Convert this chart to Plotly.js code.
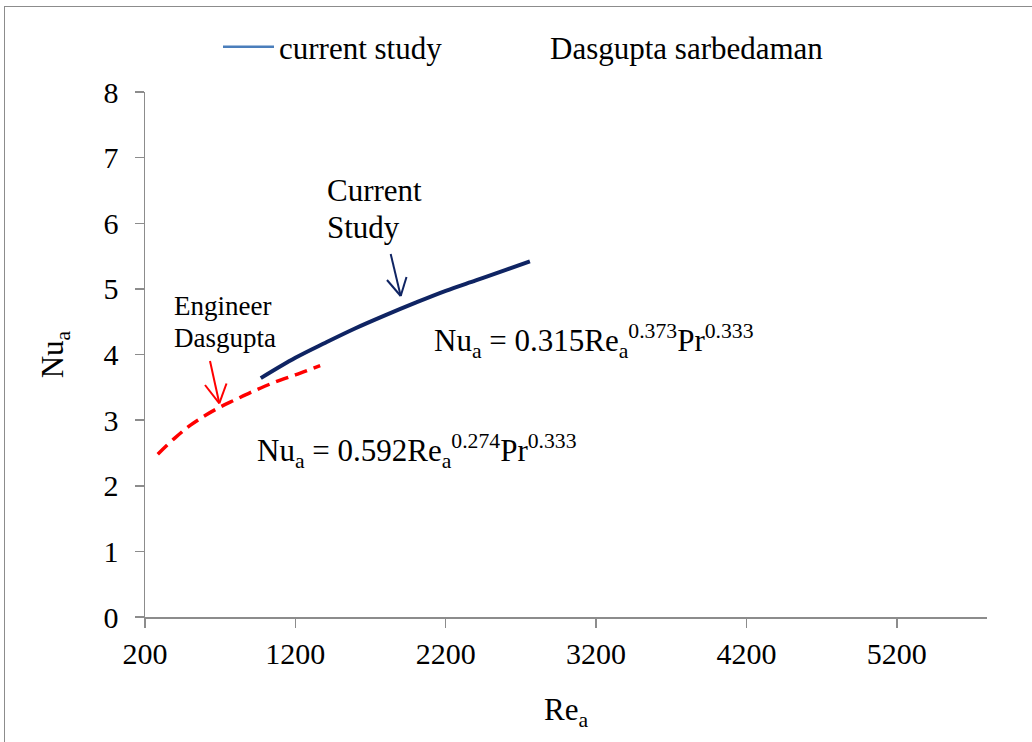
<!DOCTYPE html>
<html>
<head>
<meta charset="utf-8">
<script src="https://cdn.plot.ly/plotly-3.0.1.min.js"></script>
<style>
  html, body { margin: 0; padding: 0; background: #ffffff; }
  #wrap { position: relative; width: 1032px; height: 742px; overflow: hidden; }
  #chart { width: 1032px; height: 742px; }
  #frame { position: absolute; left: 4px; top: 6px; width: 1100px; height: 800px;
           border-left: 1.5px solid #8c8c8c; border-top: 1.5px solid #8c8c8c; pointer-events: none; }
</style>
</head>
<body>
<div id="wrap">
  <div id="chart"></div>
  <div id="frame"></div>
</div>
<script>
// ---- data ----
const currentRe = [970, 1200, 1400, 1600, 1800, 2000, 2200, 2400, 2600, 2760];
const currentNu = [3.64, 3.95, 4.18, 4.40, 4.60, 4.79, 4.97, 5.13, 5.29, 5.42];

const dasguptaRe = [285, 400, 500, 600, 700, 800, 900, 1000, 1100, 1200, 1365];
const dasguptaNu = [2.48, 2.73, 2.92, 3.07, 3.20, 3.31, 3.42, 3.52, 3.61, 3.69, 3.83];

const xTickVals = [200, 1200, 2200, 3200, 4200, 5200];
const yTickVals = [0, 1, 2, 3, 4, 5, 6, 7, 8];

const legendNames = ['current study', 'Dasgupta sarbedaman'];

// ---- layout helpers (plot area in pixels) ----
const L = 145, R = 987, T = 92, B = 617;
const px = v => (v - L) / (R - L);
const py = v => (B - v) / (B - T);

const FONT = 'Liberation Serif, Times New Roman, serif';
const axisGray = '#8c8c8c';
const NAVY = '#0f2463';
const RED = '#ff0000';

const traces = [
  { x: currentRe, y: currentNu, type: 'scatter', mode: 'lines',
    line: { color: NAVY, width: 4, shape: 'spline' }, showlegend: false, hoverinfo: 'x+y' },
  { x: dasguptaRe, y: dasguptaNu, type: 'scatter', mode: 'lines',
    line: { color: RED, width: 3.5, dash: '13px,7px', shape: 'spline' }, showlegend: false, hoverinfo: 'x+y' },
  // legend entries
  { x: [null], y: [null], type: 'scatter', mode: 'lines', name: legendNames[0],
    line: { color: '#4a7ebb', width: 2.5 }, showlegend: true, legend: 'legend' },
  { x: [null], y: [null], type: 'scatter', mode: 'lines', name: legendNames[1],
    line: { color: 'rgba(0,0,0,0)', width: 0 }, showlegend: true, legend: 'legend2' }
];

const annFont = { family: FONT, size: 31, color: '#000000' };
const smallFont = { family: FONT, size: 27, color: '#000000' };
const legFont = { family: FONT, size: 31, color: '#000000' };

// arrow drawing (callout decorations): shaft + two arms of an open V head
function arrowShapes(tail, tip, armA, armB, color) {
  const seg = (a, b) => ({ type: 'line', xref: 'paper', yref: 'paper',
    x0: px(a[0]), y0: py(a[1]), x1: px(b[0]), y1: py(b[1]),
    line: { color: color, width: 2 } });
  return [seg(tail, tip), seg(tip, armA), seg(tip, armB)];
}

const shapes = [].concat(
  arrowShapes([390.7, 254], [400.7, 296], [387, 280], [406.5, 277], NAVY),
  arrowShapes([210, 361], [219.3, 403.3], [205, 385], [226.5, 383.5], RED)
);

const layout = {
  width: 1032, height: 742,
  margin: { l: L, r: 1032 - R, t: T, b: 742 - B },
  paper_bgcolor: '#ffffff', plot_bgcolor: '#ffffff',
  font: { family: FONT, size: 30, color: '#000000' },
  showlegend: true,
  legend: {
    orientation: 'h', x: px(218), y: py(47), xanchor: 'left', yanchor: 'middle',
    font: legFont, itemwidth: 51, bgcolor: 'rgba(0,0,0,0)'
  },
  legend2: {
    orientation: 'h', x: px(489), y: py(47), xanchor: 'left', yanchor: 'middle',
    font: legFont, itemwidth: 51, bgcolor: 'rgba(0,0,0,0)'
  },
  xaxis: {
    range: [200, 5800], tickvals: xTickVals, ticktext: xTickVals.map(String),
    showgrid: false, zeroline: false, showline: true, linecolor: axisGray, linewidth: 1.5,
    ticks: 'outside', ticklen: 9, tickwidth: 1.5, tickcolor: axisGray,
    tickfont: { family: FONT, size: 30, color: '#000000' }, ticklabelstandoff: 0,
    title: { text: 'Re<sub>a</sub>', font: { family: FONT, size: 31, color: '#000000' }, standoff: 30 }
  },
  yaxis: {
    range: [0, 8], tickvals: yTickVals, ticktext: yTickVals.map(String),
    showgrid: false, zeroline: false, showline: true, linecolor: axisGray, linewidth: 1.5,
    ticks: 'outside', ticklen: 9, tickwidth: 1.5, tickcolor: axisGray,
    tickfont: { family: FONT, size: 30, color: '#000000' }, ticklabelstandoff: 10,
    title: { text: 'Nu<sub>a</sub>', font: { family: FONT, size: 31, color: '#000000' }, standoff: 30 }
  },
  shapes: shapes,
  annotations: [
    { xref: 'paper', yref: 'paper', x: px(325), y: py(190.8), xanchor: 'left', yanchor: 'middle',
      text: 'Current', showarrow: false, font: annFont },
    { xref: 'paper', yref: 'paper', x: px(325), y: py(227), xanchor: 'left', yanchor: 'middle',
      text: 'Study', showarrow: false, font: annFont },
    { xref: 'paper', yref: 'paper', x: px(172), y: py(305.5), xanchor: 'left', yanchor: 'middle',
      text: 'Engineer', showarrow: false, font: smallFont },
    { xref: 'paper', yref: 'paper', x: px(172), y: py(337.8), xanchor: 'left', yanchor: 'middle',
      text: 'Dasgupta', showarrow: false, font: smallFont },
    { xref: 'paper', yref: 'paper', x: px(432), y: py(340.8), xanchor: 'left', yanchor: 'middle',
      text: 'Nu<sub>a</sub> = 0.315Re<sub>a</sub><sup>0.373</sup>Pr<sup>0.333</sup>', showarrow: false, font: annFont },
    { xref: 'paper', yref: 'paper', x: px(255), y: py(450.8), xanchor: 'left', yanchor: 'middle',
      text: 'Nu<sub>a</sub> = 0.592Re<sub>a</sub><sup>0.274</sup>Pr<sup>0.333</sup>', showarrow: false, font: annFont }
  ]
};

Plotly.newPlot('chart', traces, layout, { displayModeBar: false, staticPlot: true });
</script>
</body>
</html>
